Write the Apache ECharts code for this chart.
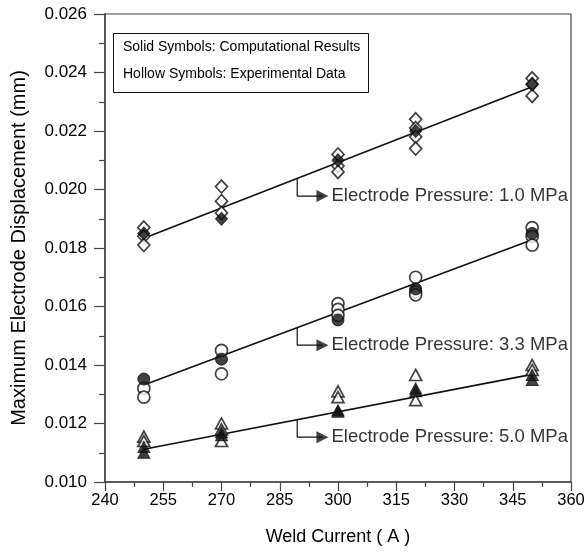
<!DOCTYPE html>
<html><head><meta charset="utf-8">
<script src="https://cdn.jsdelivr.net/npm/echarts@6/dist/echarts.min.js"></script>
<style>html,body{margin:0;padding:0;background:#fff}#c{width:588px;height:555px}</style>
</head><body><div id="c"></div>
<script>
// ---- data ----
var currents = [250, 270, 300, 320, 350];
// 1.0 MPa (diamonds)
var solid1  = [[0.0185], [0.0190], [0.0210], [0.0220], [0.0236]];
var hollow1 = [[0.0187, 0.0184, 0.0181], [0.0201, 0.0196, 0.0192], [0.0212, 0.0208, 0.0206], [0.0224, 0.0221, 0.0218, 0.0214], [0.0238, 0.0236, 0.0232]];
// 3.3 MPa (circles)
var solid2  = [[0.01352], [0.0142], [0.01554], [0.0166], [0.0185]];
var hollow2 = [[0.0132, 0.0129], [0.0145, 0.0137], [0.0161, 0.0159, 0.0157], [0.0170, 0.0165, 0.0164], [0.0187, 0.0184, 0.0181]];
// 5.0 MPa (triangles)
var solid3  = [[0.0112, 0.0110], [0.0117, 0.0116], [0.01245, 0.0124], [0.0132, 0.0131], [0.01366, 0.01349]];
var hollow3 = [[0.01155, 0.0114], [0.0120, 0.0118, 0.0114], [0.0131, 0.0129], [0.01366, 0.0128], [0.0140, 0.01383]];
// fitted lines
var fitX = [250, 350];
var fit1 = [0.01833, 0.02351];
var fit2 = [0.01332, 0.01828];
var fit3 = [0.01112, 0.01368];
var pressureLabels = ['Electrode Pressure: 1.0 MPa', 'Electrode Pressure: 3.3 MPa', 'Electrode Pressure: 5.0 MPa'];
var boxText = ['Solid Symbols: Computational Results', 'Hollow Symbols: Experimental Data'];
var xTicks = {min: 240, max: 360, interval: 15};
var yTicks = {min: 0.010, max: 0.026, interval: 0.002};
var leaderX = 289.5, arrowX = 296, leaderDrop = 0.0006;

function pairs(cols) {
  var out = [];
  cols.forEach(function (vals, i) { vals.forEach(function (v) { out.push([currents[i], v]); }); });
  return out;
}
function fitAt(fit, x) { return fit[0] + (fit[1] - fit[0]) * (x - fitX[0]) / (fitX[1] - fitX[0]); }

var FONT = '"Liberation Sans", Arial, sans-serif';
var ink = '#000';
var series = [];
var groups = [
  {solid: solid1, hollow: hollow1, fit: fit1, sym: 'diamond', size: [12, 13]},
  {solid: solid2, hollow: hollow2, fit: fit2, sym: 'circle', size: 12},
  {solid: solid3, hollow: hollow3, fit: fit3, sym: 'triangle', size: [12, 11]}
];
var arrowPath = 'path://M0,0 L10,5 L0,10 Z';
groups.forEach(function (g, gi) {
  series.push({type: 'line', data: fitX.map(function (x, i) { return [x, g.fit[i]]; }),
    symbol: 'none', lineStyle: {color: '#111', width: 1.6}, z: 2, silent: true});
  series.push({type: 'scatter', data: pairs(g.hollow), symbol: g.sym, symbolSize: g.size,
    itemStyle: {color: '#fff', borderColor: '#111', borderWidth: 1.7}, z: 3});
  series.push({type: 'scatter', data: pairs(g.solid), symbol: g.sym, symbolSize: g.size,
    itemStyle: {color: '#111', borderColor: '#111', borderWidth: 1}, z: 4});
  var y0 = fitAt(g.fit, leaderX), y1 = y0 - leaderDrop;
  series.push({type: 'line', data: [[leaderX, y0], [leaderX, y1], [arrowX, y1]],
    symbol: 'none', lineStyle: {color: '#111', width: 1.2}, z: 2, silent: true});
  series.push({type: 'scatter', data: [[arrowX, y1]], symbol: arrowPath, symbolSize: 12,
    itemStyle: {color: '#111'}, z: 5, silent: true,
    label: {show: true, position: 'right', distance: 3, formatter: pressureLabels[gi],
      color: ink, fontSize: 18.5, fontFamily: FONT}});
});

var chart = echarts.init(document.getElementById('c'), null, {renderer: 'canvas'});
var axisCol = '#444';
chart.setOption({
  animation: false,
  backgroundColor: '#fff',
  grid: {left: 105, right: 17, top: 14, bottom: 73, show: true, borderColor: axisCol, borderWidth: 1.2, backgroundColor: 'transparent'},
  title: {text: boxText.join('\n'), left: 113, top: 33, borderColor: '#111', borderWidth: 1,
    padding: [1, 8, 5, 10],
    textStyle: {fontSize: 14, fontWeight: 'normal', fontFamily: FONT, color: ink, lineHeight: 27}},
  xAxis: {type: 'value', min: xTicks.min, max: xTicks.max, interval: xTicks.interval,
    name: 'Weld Current ( A )', nameLocation: 'middle', nameGap: 46,
    nameTextStyle: {fontSize: 18, fontFamily: FONT, color: ink},
    axisLine: {lineStyle: {color: axisCol, width: 1.5}},
    axisTick: {inside: false, length: 9, lineStyle: {color: axisCol, width: 1.2}},
    minorTick: {show: true, splitNumber: 2, length: 5, lineStyle: {color: axisCol, width: 1.2}},
    splitLine: {show: false},
    axisLabel: {fontSize: 16.5, fontFamily: FONT, color: ink, margin: 10}},
  yAxis: {type: 'value', min: yTicks.min, max: yTicks.max, interval: yTicks.interval,
    name: 'Maximum Electrode Displacement (mm)', nameLocation: 'middle', nameGap: 76,
    nameTextStyle: {fontSize: 20, fontFamily: FONT, color: ink},
    axisLine: {show: true, lineStyle: {color: axisCol, width: 1.5}},
    axisTick: {show: true, inside: false, length: 11, lineStyle: {color: axisCol, width: 1.2}},
    minorTick: {show: true, splitNumber: 2, length: 6, lineStyle: {color: axisCol, width: 1.2}},
    splitLine: {show: false},
    axisLabel: {fontSize: 17, fontFamily: FONT, color: ink, margin: 18,
      formatter: function (v) { return v.toFixed(3); }}},
  series: series
});
</script></body></html>
